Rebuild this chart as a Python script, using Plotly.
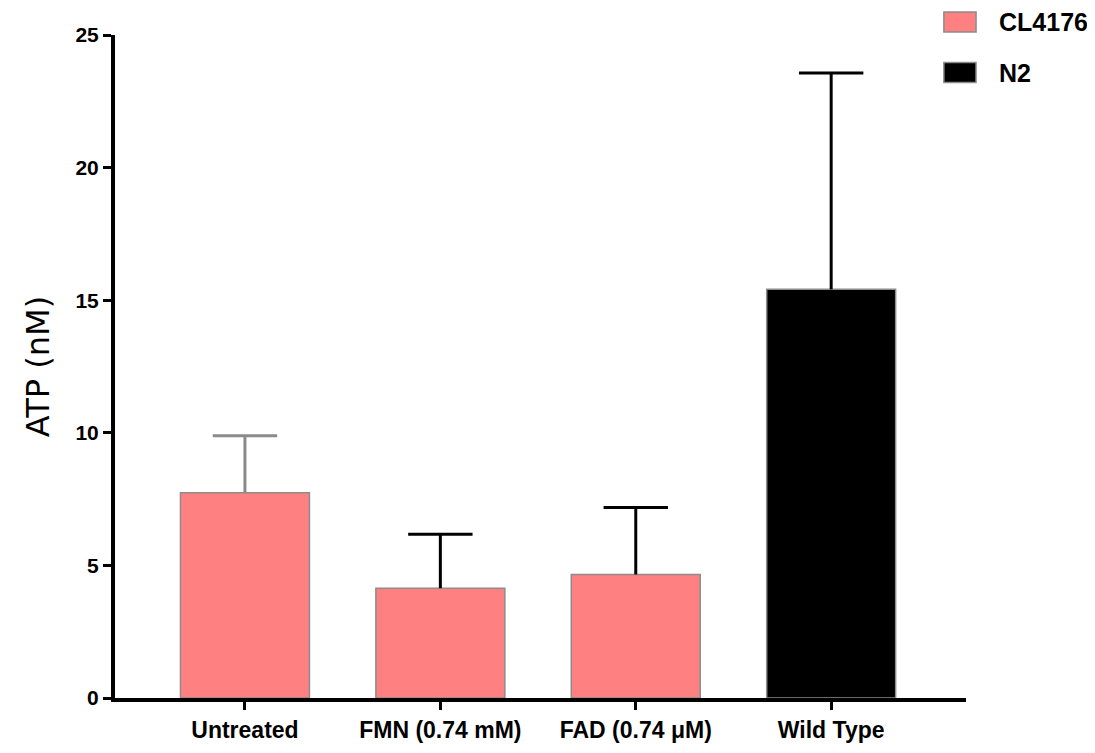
import plotly.graph_objects as go

# ---- data ----
categories = ["Untreated", "FMN (0.74 mM)", "FAD (0.74 μM)", "Wild Type"]
means = [7.74, 4.14, 4.66, 15.41]
sems = [2.15, 2.03, 2.52, 8.16]
strain = ["CL4176", "CL4176", "CL4176", "N2"]
err_colors = ["#8a8a8a", "#000000", "#000000", "#000000"]
y_ticks = [0, 5, 10, 15, 20, 25]

legend_names = ["CL4176", "N2"]
legend_colors = ["#FF8080", "#000000"]
fill_for = {"CL4176": "#FF8080", "N2": "#000000"}

BOLD = "Liberation Sans, Arial, sans-serif"

fig = go.Figure()

for i, cat in enumerate(categories):
    # bar with the vertical part of the error bar (no caps)
    fig.add_trace(go.Bar(
        x=[cat], y=[means[i]], width=0.66,
        marker=dict(color=fill_for[strain[i]], line=dict(color="#8c8c8c", width=1.5)),
        error_y=dict(type="data", symmetric=False, array=[sems[i]], arrayminus=[0],
                     color=err_colors[i], thickness=3, width=0),
        showlegend=False, hoverinfo="x+y",
    ))
    # cap of the error bar
    fig.add_trace(go.Scatter(
        x=[cat], y=[means[i] + sems[i]], mode="markers",
        marker=dict(symbol="line-ew", size=46, line=dict(color=err_colors[i], width=3)),
        showlegend=False, hoverinfo="skip",
    ))

# legend drawn as boxes + text (large swatches like the reference)
leg_y = [1.0196, 0.9434]
for name, col, yy in zip(legend_names, legend_colors, leg_y):
    fig.add_shape(type="rect", xref="paper", yref="paper",
                  x0=0.974, x1=1.0118, y0=yy - 0.0151, y1=yy + 0.0151,
                  fillcolor=col, line=dict(color="#8c8c8c", width=1.5))
    fig.add_annotation(xref="paper", yref="paper", x=1.0364, y=yy, text=name,
                       showarrow=False, xanchor="left", yanchor="middle",
                       font=dict(family=BOLD, size=25, color="#000000", weight="bold"))

fig.update_layout(
    width=1087, height=745,
    margin=dict(l=107, r=129, t=27, b=55),
    plot_bgcolor="white", paper_bgcolor="white",
    barmode="overlay",
    showlegend=False,
    xaxis=dict(
        type="category", categoryorder="array", categoryarray=categories,
        range=[-0.665, 3.69], automargin=False,
        showline=True, linecolor="black", linewidth=4,
        ticks="outside", ticklen=8, tickwidth=3, tickcolor="black",
        showgrid=False, zeroline=False,
        tickfont=dict(family=BOLD, size=23, color="black", weight="bold"),
    ),
    yaxis=dict(
        range=[0, 25], tickvals=y_ticks, automargin=False,
        showline=True, linecolor="black", linewidth=4,
        ticks="outside", ticklen=8, tickwidth=3, tickcolor="black",
        showgrid=False, zeroline=False,
        tickfont=dict(family=BOLD, size=21, color="black", weight="bold"),
        title=dict(text="ATP (nM)", standoff=17,
                   font=dict(family="DejaVu Sans, sans-serif", size=32, color="black")),
    ),
)

fig.write_html("out.html")
